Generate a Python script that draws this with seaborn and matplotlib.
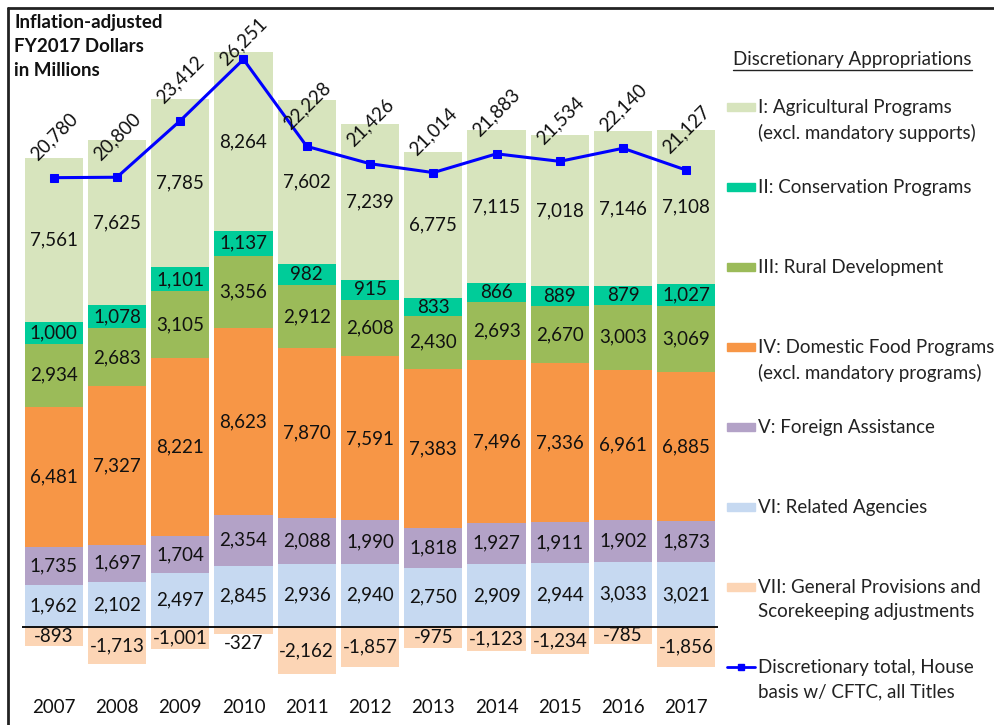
import numpy as np
import matplotlib.pyplot as plt
from matplotlib.lines import Line2D
from matplotlib.patches import Rectangle
import seaborn as sns

# Data (FY2017 dollars, millions)
years = ['2007', '2008', '2009', '2010', '2011', '2012', '2013', '2014', '2015', '2016', '2017']
ag_programs = [7561, 7625, 7785, 8264, 7602, 7239, 6775, 7115, 7018, 7146, 7108]
conservation = [1000, 1078, 1101, 1137, 982, 915, 833, 866, 889, 879, 1027]
rural_dev = [2934, 2683, 3105, 3356, 2912, 2608, 2430, 2693, 2670, 3003, 3069]
food_programs = [6481, 7327, 8221, 8623, 7870, 7591, 7383, 7496, 7336, 6961, 6885]
foreign_assist = [1735, 1697, 1704, 2354, 2088, 1990, 1818, 1927, 1911, 1902, 1873]
related_agencies = [1962, 2102, 2497, 2845, 2936, 2940, 2750, 2909, 2944, 3033, 3021]
general_prov = [-893, -1713, -1001, -327, -2162, -1857, -975, -1123, -1234, -785, -1856]
totals = [20780, 20800, 23412, 26251, 22228, 21426, 21014, 21883, 21534, 22140, 21127]

sns.set_theme(style='white')
plt.rcParams['font.family'] = ['Lato', 'DejaVu Sans']

# stacked from bottom to top
layers = [
    ('VI: Related Agencies', related_agencies, '#C6D9F1'),
    ('V: Foreign Assistance', foreign_assist, '#B3A2C7'),
    ('IV: Domestic Food Programs\n(excl. mandatory programs)', food_programs, '#F79646'),
    ('III: Rural Development', rural_dev, '#9BBB59'),
    ('II: Conservation Programs', conservation, '#00CC99'),
    ('I: Agricultural Programs\n(excl. mandatory supports)', ag_programs, '#D7E4BD'),
]
vii_label = 'VII: General Provisions and\nScorekeeping adjustments'
vii_color = '#FCD5B5'
line_label = 'Discretionary total, House\nbasis w/ CFTC, all Titles'

fig = plt.figure(figsize=(9.94, 7.25), dpi=100)
ax = fig.add_axes([22 / 994, 33 / 725, 696 / 994, 664 / 725])

x = np.arange(len(years))
width = 0.92
bottom = np.zeros(len(years))
for name, vals, color in layers:
    vals = np.array(vals, dtype=float)
    bars = ax.bar(x, vals, width, bottom=bottom, color=color, edgecolor='none')
    ax.bar_label(bars, labels=[f'{v:,.0f}' for v in vals], label_type='center',
                 fontsize=13.5, color='#111111')
    bottom += vals

neg = np.array(general_prov, dtype=float)
ax.bar(x, neg, width, color=vii_color, edgecolor='none')
for xi, v in zip(x, neg):
    ypos = v / 2 if abs(v) >= 500 else v - 420
    ax.text(xi, ypos, f'{v:,.0f}', ha='center', va='center', fontsize=13.5, color='#111111')

ax.axhline(0, color='black', lw=1.3)

sns.lineplot(x=x, y=totals, ax=ax, color='#0000FF', lw=2.2, marker='s',
             markersize=6, markeredgecolor='#0000FF')

ax.set_xlim(-0.5, len(years) - 0.5)
ax.set_ylim(-3000, 27700)
for xi, t in zip(x, totals):
    ax.text(xi, min(t + 1900, 27100), f'{t:,.0f}', rotation=45, ha='center', va='center',
            fontsize=13.5, color='#111111', rotation_mode='anchor')

ax.set_xticks(x)
ax.set_xticklabels(years, fontsize=13.5, color='#111111')
ax.tick_params(axis='x', length=0, pad=5)
ax.set_yticks([])
for s in ax.spines.values():
    s.set_visible(False)

# title at the top left
fig.text(14 / 994, 1 - 14 / 725, 'Inflation-adjusted\nFY2017 Dollars\nin Millions',
         ha='left', va='top', fontsize=13.5, fontweight='bold', color='#111111', linespacing=1.5)

# outer frame (top and left edges visible)
fig.add_artist(Line2D([8 / 994, 8 / 994], [0, 1 - 8 / 725], color='#222222', lw=2))
fig.add_artist(Line2D([8 / 994, 1], [1 - 8 / 725, 1 - 8 / 725], color='#222222', lw=2))

# legend drawn by hand
def fx(px):
    return px / 994

def fy(py):
    return 1 - py / 725

title = fig.text(fx(733), fy(60), 'Discretionary Appropriations', ha='left', va='center',
                 fontsize=13.5, color='#222222')
fig.canvas.draw()
bb = title.get_window_extent()
fig.add_artist(Line2D([bb.x0 / 994, bb.x1 / 994], [fy(70), fy(70)], color='#222222', lw=1))

legend_items = [(layers[5][0], layers[5][2]), (layers[4][0], layers[4][2]),
                (layers[3][0], layers[3][2]), (layers[2][0], layers[2][2]),
                (layers[1][0], layers[1][2]), (layers[0][0], layers[0][2]),
                (vii_label, vii_color)]
for i, (name, color) in enumerate(legend_items):
    y = 107 + 80 * i
    fig.add_artist(Rectangle((fx(727), fy(y + 4)), fx(28), 8 / 725, color=color,
                             transform=fig.transFigure))
    fig.text(fx(758), fy(y - 8), name, ha='left', va='top', fontsize=13.5,
             color='#222222', linespacing=1.5)
y = 107 + 80 * 7
fig.add_artist(Line2D([fx(727), fx(755)], [fy(y), fy(y)], color='#0000FF', lw=2,
                      transform=fig.transFigure))
fig.add_artist(Line2D([fx(741)], [fy(y)], color='#0000FF', marker='s', markersize=5,
                      transform=fig.transFigure))
fig.text(fx(758), fy(y - 8), line_label, ha='left', va='top', fontsize=13.5,
         color='#222222', linespacing=1.5)

fig.savefig('out.png', dpi=100)
